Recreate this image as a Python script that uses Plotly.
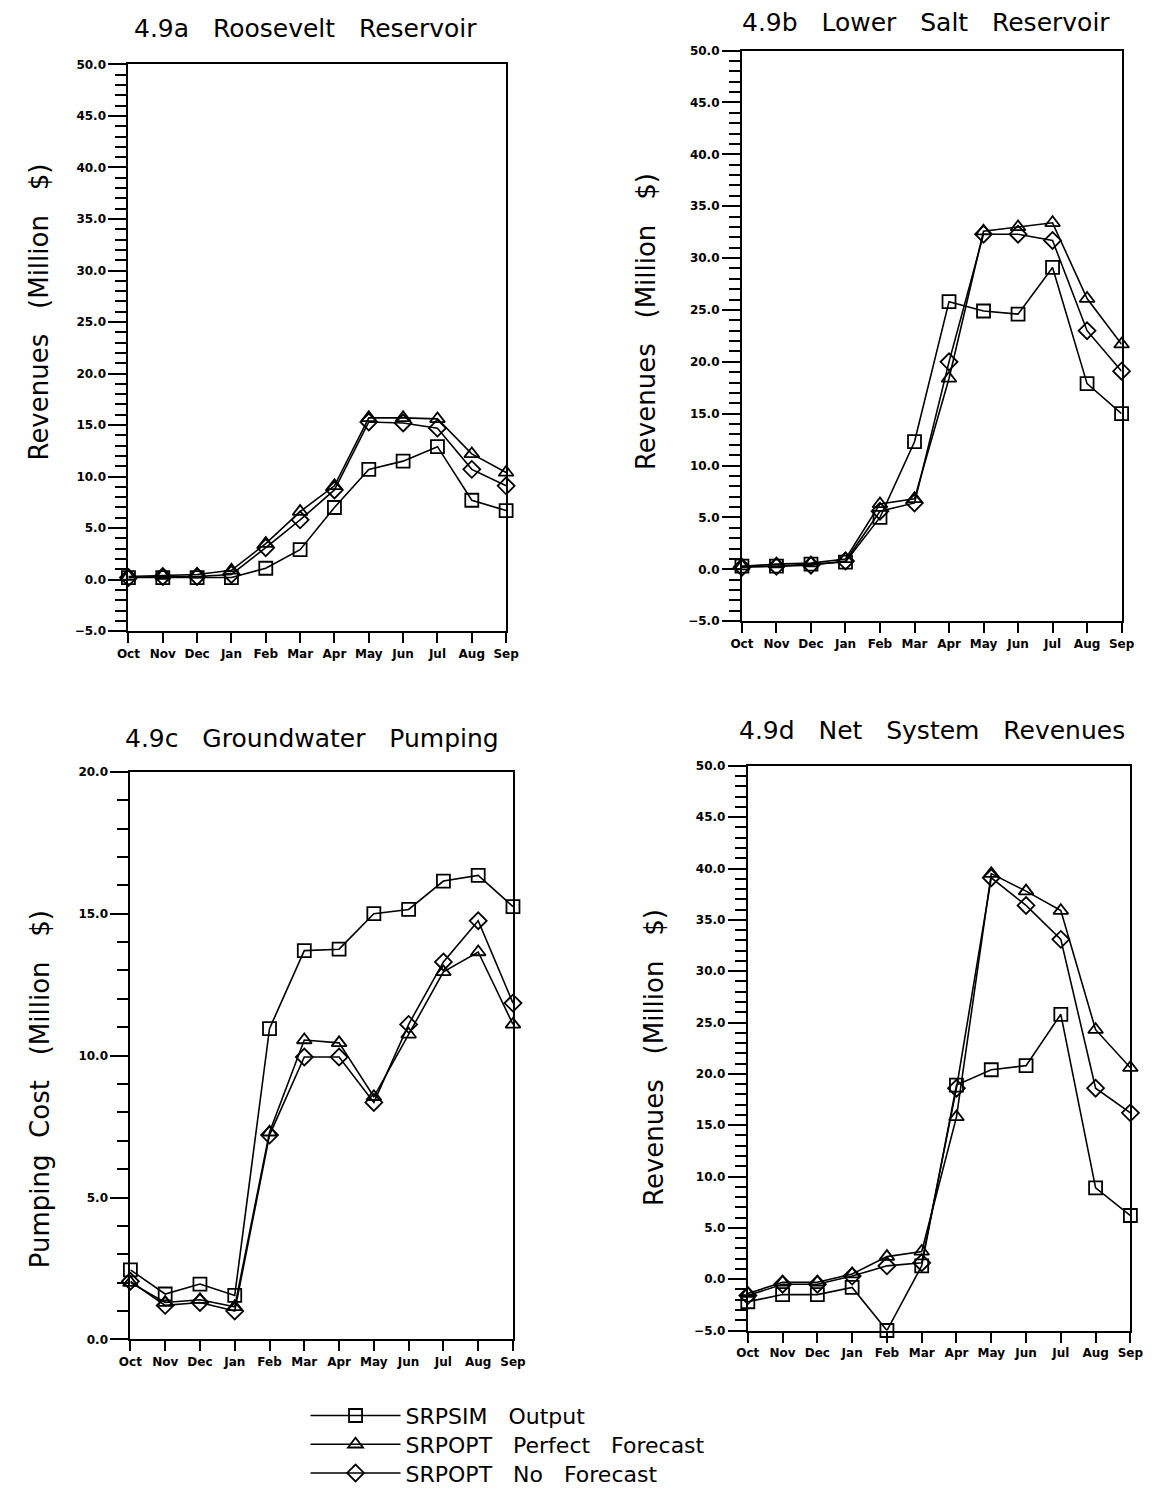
import plotly.graph_objects as go

months = ["Oct", "Nov", "Dec", "Jan", "Feb", "Mar", "Apr", "May", "Jun", "Jul", "Aug", "Sep"]

# 4.9a Roosevelt Reservoir (Million $)
a_srpsim = [0.2, 0.2, 0.2, 0.2, 1.1, 2.9, 7.0, 10.7, 11.5, 12.9, 7.7, 6.7]
a_perfect = [0.3, 0.4, 0.5, 0.9, 3.5, 6.6, 9.1, 15.7, 15.7, 15.6, 12.2, 10.4]
a_nofcst = [0.2, 0.3, 0.3, 0.5, 3.1, 5.8, 8.7, 15.3, 15.2, 14.7, 10.7, 9.1]

# 4.9b Lower Salt Reservoir (Million $)
b_srpsim = [0.3, 0.3, 0.5, 0.7, 5.0, 12.3, 25.8, 24.9, 24.6, 29.1, 17.9, 15.0]
b_perfect = [0.3, 0.5, 0.6, 1.0, 6.3, 6.8, 18.4, 32.6, 33.0, 33.4, 26.1, 21.7]
b_nofcst = [0.2, 0.3, 0.4, 0.8, 5.6, 6.4, 20.0, 32.3, 32.3, 31.7, 23.0, 19.1]

# 4.9c Groundwater Pumping (Million $)
c_srpsim = [2.45, 1.6, 1.95, 1.55, 10.95, 13.7, 13.75, 15.0, 15.15, 16.15, 16.35, 15.25]
c_perfect = [2.0, 1.3, 1.4, 1.15, 7.3, 10.55, 10.45, 8.55, 10.75, 12.95, 13.65, 11.1]
c_nofcst = [2.05, 1.2, 1.3, 1.0, 7.2, 9.95, 9.95, 8.35, 11.1, 13.3, 14.75, 11.85]

# 4.9d Net System Revenues (Million $)
d_srpsim = [-2.2, -1.5, -1.5, -0.8, -5.0, 1.3, 18.9, 20.4, 20.8, 25.8, 8.9, 6.2]
d_perfect = [-1.4, -0.3, -0.3, 0.5, 2.2, 2.7, 15.8, 39.5, 37.8, 35.9, 24.3, 20.6]
d_nofcst = [-1.6, -0.5, -0.5, 0.3, 1.3, 1.6, 18.6, 39.1, 36.4, 33.1, 18.6, 16.2]

SP3 = "\u00a0\u00a0\u00a0"
series_names = ["SRPSIM" + SP3 + "Output",
                "SRPOPT" + SP3 + "Perfect" + SP3 + "Forecast",
                "SRPOPT" + SP3 + "No" + SP3 + "Forecast"]
symbols = ["square-open", "triangle-up-open", "diamond-open"]
legend_ids = ["legend", "legend2", "legend3"]

panels = [
    (a_srpsim, a_perfect, a_nofcst),
    (b_srpsim, b_perfect, b_nofcst),
    (c_srpsim, c_perfect, c_nofcst),
    (d_srpsim, d_perfect, d_nofcst),
]

W, H = 1161, 1498

def px_x(p):
    return p / W

def px_y(p):
    return 1 - p / H

# pixel boxes (left, right, top, bottom)
boxes = [
    (119, 505, 58, 630),
    (746, 1134, 44, 620),
    (121, 512, 772, 1345),
    (752, 1143, 766, 1336),
]
yranges = [[-5, 50], [-5, 50], [0, 20], [-5, 50]]

fig = go.Figure()
for i, vals in enumerate(panels):
    ax = "" if i == 0 else str(i + 1)
    for j, v in enumerate(vals):
        fig.add_trace(go.Scatter(
            x=months, y=v, name=series_names[j],
            mode="lines+markers",
            line=dict(color="black", width=1.6),
            marker=dict(symbol=symbols[j], size=13, color="black",
                        line=dict(color="black", width=1.8)),
            xaxis="x" + ax, yaxis="y" + ax,
            cliponaxis=False,
            showlegend=(i == 0),
            legend=legend_ids[j],
        ))

tickfont = dict(family="DejaVu Sans", size=12, color="black", weight="bold")
legfont = dict(family="DejaVu Sans", size=22, color="black")
layout = dict(
    width=W, height=H,
    margin=dict(l=0, r=0, t=0, b=0),
    paper_bgcolor="white", plot_bgcolor="white",
    showlegend=True,
)
for k, (lid, yc) in enumerate(zip(legend_ids, [1422, 1451, 1480])):
    layout[lid] = dict(x=px_x(300), y=px_y(yc), xanchor="left", yanchor="middle",
                       font=legfont, itemwidth=90, bgcolor="rgba(0,0,0,0)",
                       borderwidth=0, tracegroupgap=0)

for i, box in enumerate(boxes):
    ax = "" if i == 0 else str(i + 1)
    l, r, t, b = box
    layout["xaxis" + ax] = dict(
        domain=[px_x(l), px_x(r)], anchor="y" + ax,
        type="category", categoryorder="array", categoryarray=months,
        range=[0, 11], showline=True, linewidth=2, linecolor="black",
        mirror=True, ticks="outside", ticklen=10, tickwidth=2,
        tickcolor="black", tickfont=tickfont, showgrid=False, zeroline=False,
    )
    layout["yaxis" + ax] = dict(
        domain=[px_y(b), px_y(t)], anchor="x" + ax,
        range=yranges[i], dtick=5, tick0=0, tickformat=".1f",
        showline=True, linewidth=2, linecolor="black", mirror=True,
        ticks="outside", ticklen=18, tickwidth=2, tickcolor="black",
        tickfont=tickfont, showgrid=False, zeroline=False,
        minor=dict(dtick=1, ticks="outside", ticklen=11, tickwidth=2,
                   tickcolor="black", showgrid=False),
    )
fig.update_layout(**layout)

titles = [
    ("4.9a" + SP3 + "Roosevelt" + SP3 + "Reservoir", 300, 22),
    ("4.9b" + SP3 + "Lower" + SP3 + "Salt" + SP3 + "Reservoir", 934, 16),
    ("4.9c" + SP3 + "Groundwater" + SP3 + "Pumping", 307, 738),
    ("4.9d" + SP3 + "Net" + SP3 + "System" + SP3 + "Revenues", 940, 730),
]
for text, xc, yc in titles:
    fig.add_annotation(text=text, x=px_x(xc), y=px_y(yc), xref="paper", yref="paper",
                       showarrow=False, xanchor="center", yanchor="middle",
                       font=dict(family="DejaVu Sans", size=25, color="black"))

ytitles = [
    ("Revenues" + SP3 + "(Million" + SP3 + "$)", 28, 308),
    ("Revenues" + SP3 + "(Million" + SP3 + "$)", 648, 318),
    ("Pumping\u00a0\u00a0Cost" + SP3 + "(Million" + SP3 + "$)", 28, 1092),
    ("Revenues" + SP3 + "(Million" + SP3 + "$)", 656, 1060),
]
for text, xc, yc in ytitles:
    fig.add_annotation(text=text, x=px_x(xc), y=px_y(yc), xref="paper", yref="paper",
                       showarrow=False, xanchor="center", yanchor="middle", textangle=-90,
                       font=dict(family="DejaVu Sans", size=26, color="black"))

fig.write_html("out.html")
